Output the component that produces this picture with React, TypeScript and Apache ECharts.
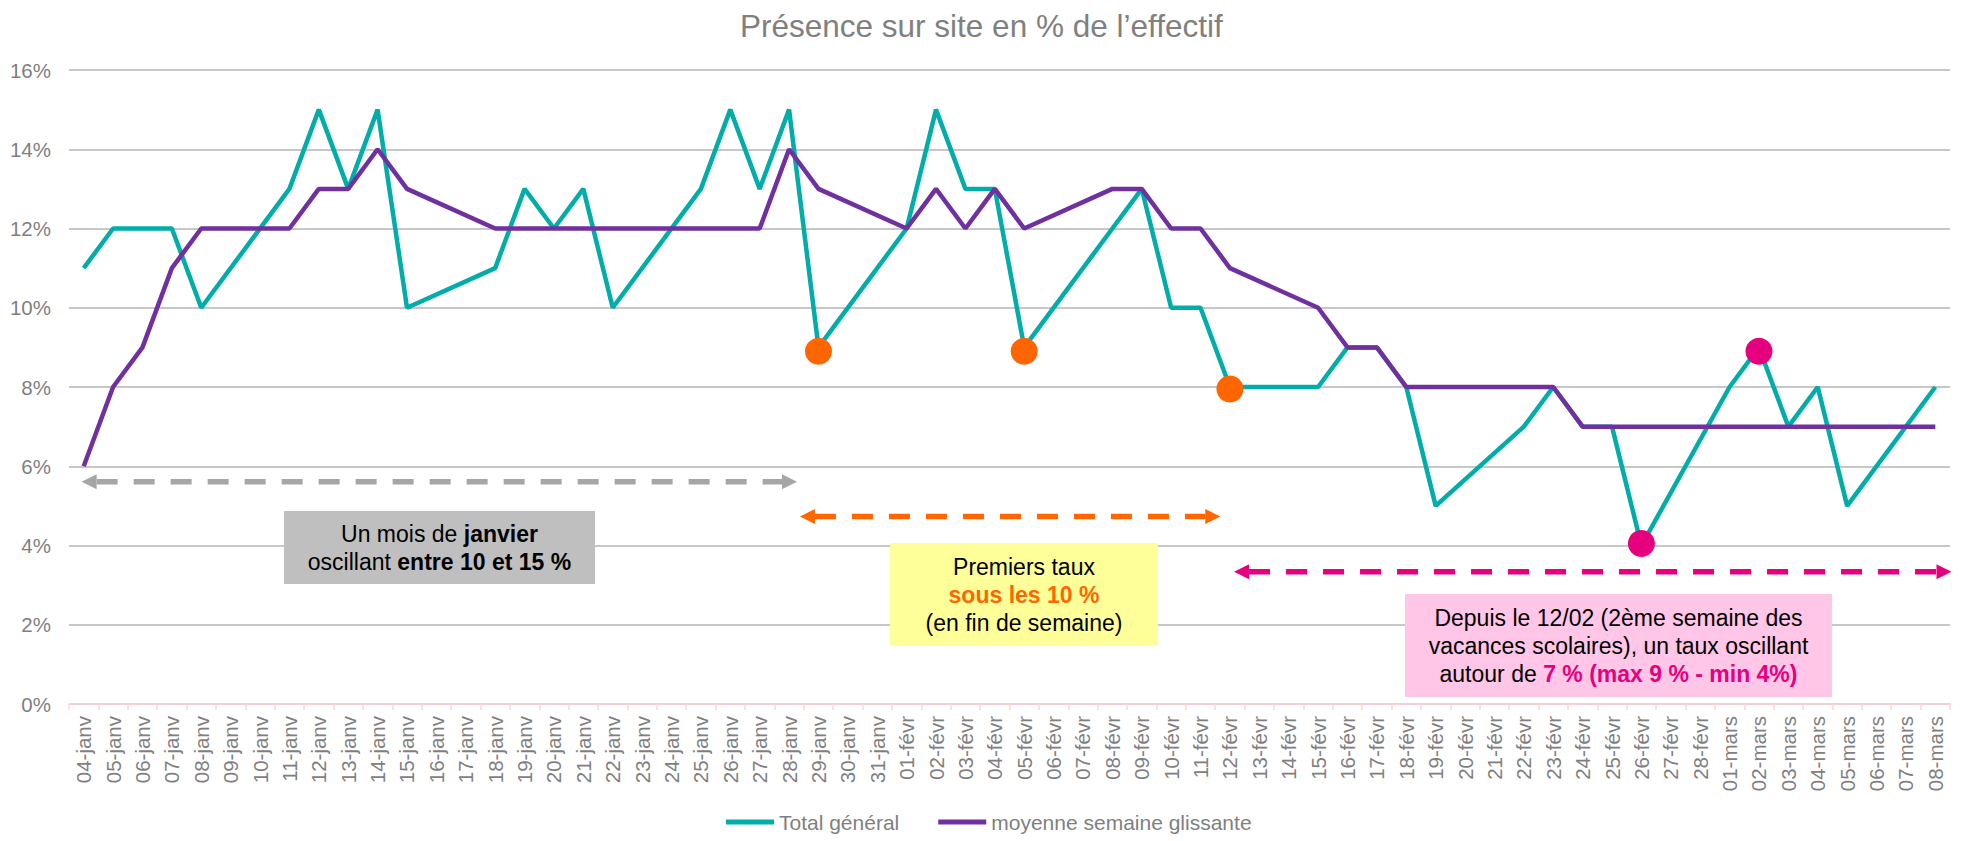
import React, { useEffect, useRef } from 'react';
import * as echarts from 'echarts';

const categories = [
  '04-janv', '05-janv', '06-janv', '07-janv', '08-janv', '09-janv', '10-janv', '11-janv', '12-janv', '13-janv',
  '14-janv', '15-janv', '16-janv', '17-janv', '18-janv', '19-janv', '20-janv', '21-janv', '22-janv', '23-janv',
  '24-janv', '25-janv', '26-janv', '27-janv', '28-janv', '29-janv', '30-janv', '31-janv',
  '01-févr', '02-févr', '03-févr', '04-févr', '05-févr', '06-févr', '07-févr', '08-févr', '09-févr', '10-févr',
  '11-févr', '12-févr', '13-févr', '14-févr', '15-févr', '16-févr', '17-févr', '18-févr', '19-févr', '20-févr',
  '21-févr', '22-févr', '23-févr', '24-févr', '25-févr', '26-févr', '27-févr', '28-févr',
  '01-mars', '02-mars', '03-mars', '04-mars', '05-mars', '06-mars', '07-mars', '08-mars',
];

// Total général (%), null = week-end (no value)
const totalGeneral: (number | null)[] = [
  11, 12, 12, 12, 10, null, null, 13, 15, 13,
  15, 10, null, null, 11, 13, 12, 13, 10, null,
  null, 13, 15, 13, 15, 9, null, null,
  12, 15, 13, 13, 9, null, null, 12, 13, 10,
  10, 8, null, null, 8, 9, 9, 8, 5, null,
  null, 7, 8, 7, 7, 4, null, null,
  8, 9, 7, 8, 5, null, null, 8,
];

// moyenne semaine glissante (%)
const moyenneGlissante: (number | null)[] = [
  6, 8, 9, 11, 12, null, null, 12, 13, 13,
  14, 13, null, null, 12, 12, 12, 12, 12, null,
  null, 12, 12, 12, 14, 13, null, null,
  12, 13, 12, 13, 12, null, null, 13, 13, 12,
  12, 11, null, null, 10, 9, 9, 8, 8, null,
  null, 8, 8, 7, 7, 7, null, null,
  7, 7, 7, 7, 7, null, null, 7,
];

// highlighted points
const orangePoints: [string, number][] = [['29-janv', 8.9], ['05-févr', 8.9], ['12-févr', 7.95]];
const pinkPoints: [string, number][] = [['26-févr', 4.05], ['02-mars', 8.9]];

const yMin = 0;
const yMax = 16;
const yInterval = 2;

const FONT = '"Liberation Sans", Arial, Helvetica, sans-serif';
const GRAY_TEXT = '#7F7F7F';

// Annotation arrows: category position (fractional index) and value
const arrowDefs = [
  { from: -0.07, to: 24.27, value: 5.61, color: '#A6A6A6' },
  { from: 24.37, to: 38.67, value: 4.73, color: '#FF6600' },
  { from: 39.14, to: 63.55, value: 3.34, color: '#E6007E' },
];

export default function App() {
  const ref = useRef<HTMLDivElement>(null);

  useEffect(() => {
    if (!ref.current) return;
    const chart = echarts.init(ref.current, undefined, { renderer: 'svg' });

    const option: any = {
      animation: false,
      backgroundColor: '#ffffff',
      title: {
        text: 'Présence sur site en % de l’effectif',
        left: 735,
        top: 5,
        textStyle: { color: '#808080', fontSize: 31.5, fontWeight: 'normal', fontFamily: FONT },
      },
      legend: {
        data: ['Total général', 'moyenne semaine glissante'],
        left: 726,
        top: 810,
        padding: 0,
        itemWidth: 48,
        itemHeight: 5,
        itemGap: 39,
        icon: 'rect',
        textStyle: { color: GRAY_TEXT, fontSize: 21, fontFamily: FONT, lineHeight: 24 },
      },
      grid: { left: 69, right: 11, top: 70, bottom: 137, containLabel: false },
      xAxis: {
        type: 'category',
        data: categories,
        boundaryGap: true,
        axisLine: { show: true, lineStyle: { color: '#FBD3DA', width: 1.5 } },
        axisTick: { show: true, interval: 0, length: 6, lineStyle: { color: '#FBD3DA', width: 1.5 } },
        axisLabel: {
          interval: 0,
          rotate: 90,
          color: GRAY_TEXT,
          fontSize: 20.5,
          fontFamily: FONT,
          margin: 12,
        },
        splitLine: { show: false },
      },
      yAxis: {
        type: 'value',
        min: yMin,
        max: yMax,
        interval: yInterval,
        axisLine: { show: false },
        axisTick: { show: false },
        axisLabel: {
          formatter: '{value}%',
          color: GRAY_TEXT,
          fontSize: 20.5,
          fontFamily: FONT,
          margin: 18,
        },
        splitLine: { show: true, lineStyle: { color: '#B5B5B5', width: 1.5 } },
      },
      series: [
        {
          name: 'Total général',
          type: 'line',
          data: totalGeneral,
          connectNulls: true,
          symbol: 'none',
          color: '#00ADA8',
          lineStyle: { color: '#00ADA8', width: 4.5 },
          z: 2,
        },
        {
          name: 'moyenne semaine glissante',
          type: 'line',
          data: moyenneGlissante,
          connectNulls: true,
          symbol: 'none',
          color: '#7030A0',
          lineStyle: { color: '#7030A0', width: 4.5 },
          z: 3,
        },
        {
          name: 'orange',
          type: 'scatter',
          data: orangePoints,
          symbol: 'circle',
          symbolSize: 27,
          itemStyle: { color: '#FF6600', opacity: 1 },
          z: 5,
        },
        {
          name: 'pink',
          type: 'scatter',
          data: pinkPoints,
          symbol: 'circle',
          symbolSize: 27,
          itemStyle: { color: '#E6007E', opacity: 1 },
          z: 5,
        },
      ],
    };

    chart.setOption(option);

    const x0 = chart.convertToPixel({ xAxisIndex: 0 }, categories[0]) as number;
    const x1 = chart.convertToPixel({ xAxisIndex: 0 }, categories[1]) as number;
    const px = (idx: number) => x0 + (x1 - x0) * idx;
    const py = (v: number) => chart.convertToPixel({ yAxisIndex: 0 }, v) as number;

    const graphics: any[] = [];
    const head = 15;
    const hh = 7.5;
    arrowDefs.forEach((a) => {
      const xa = px(a.from);
      const xb = px(a.to);
      const y = py(a.value);
      graphics.push({
        type: 'line',
        z: 1,
        shape: { x1: xa + head, y1: y, x2: xb - head, y2: y },
        style: { stroke: a.color, lineWidth: 5.5, lineDash: [21, 16] },
      });
      graphics.push({
        type: 'polygon',
        z: 1,
        shape: { points: [[xa, y], [xa + head, y - hh], [xa + head, y + hh]] },
        style: { fill: a.color },
      });
      graphics.push({
        type: 'polygon',
        z: 1,
        shape: { points: [[xb, y], [xb - head, y - hh], [xb - head, y + hh]] },
        style: { fill: a.color },
      });
    });

    const base = { fontSize: 23, fontFamily: FONT, lineHeight: 28, fill: '#000000', align: 'center' };
    const bold = { ...base, fontWeight: 'bold' };

    const boxes = [
      {
        x: 284, y: 511, w: 311, h: 73, fill: '#BFBFBF',
        text: '{n|Un mois de }{b|janvier}\n{n|oscillant }{b|entre 10 et 15 %}',
        rich: { n: base, b: bold },
      },
      {
        x: 890, y: 543, w: 268, h: 103, fill: '#FFFF99',
        text: '{n|Premiers taux}\n{o|sous les 10 %}\n{n|(en fin de semaine)}',
        rich: { n: base, o: { ...bold, fill: '#FF6600' } },
      },
      {
        x: 1405, y: 594, w: 427, h: 103, fill: '#FFC6E7',
        text: '{n|Depuis le 12/02 (2ème semaine des}\n{n|vacances scolaires), un taux oscillant}\n{n|autour de }{p|7 % (max 9 % - min 4%)}',
        rich: { n: base, p: { ...bold, fill: '#E6007E' } },
      },
    ];
    boxes.forEach((b) => {
      graphics.push({
        type: 'rect',
        z: 1,
        shape: { x: b.x, y: b.y, width: b.w, height: b.h },
        style: { fill: b.fill },
      });
      graphics.push({
        type: 'text',
        z: 2,
        x: b.x + b.w / 2,
        y: b.y + b.h / 2,
        style: {
          text: b.text,
          rich: b.rich,
          align: 'center',
          verticalAlign: 'middle',
          fontSize: 23,
          fontFamily: FONT,
          fill: '#000000',
        },
      });
    });

    chart.setOption({ graphic: graphics });

    return () => {
      chart.dispose();
    };
  }, []);

  return (
    <div
      ref={ref}
      style={{ position: 'fixed', left: 0, top: 0, width: 1961, height: 841, background: '#fff' }}
    />
  );
}
